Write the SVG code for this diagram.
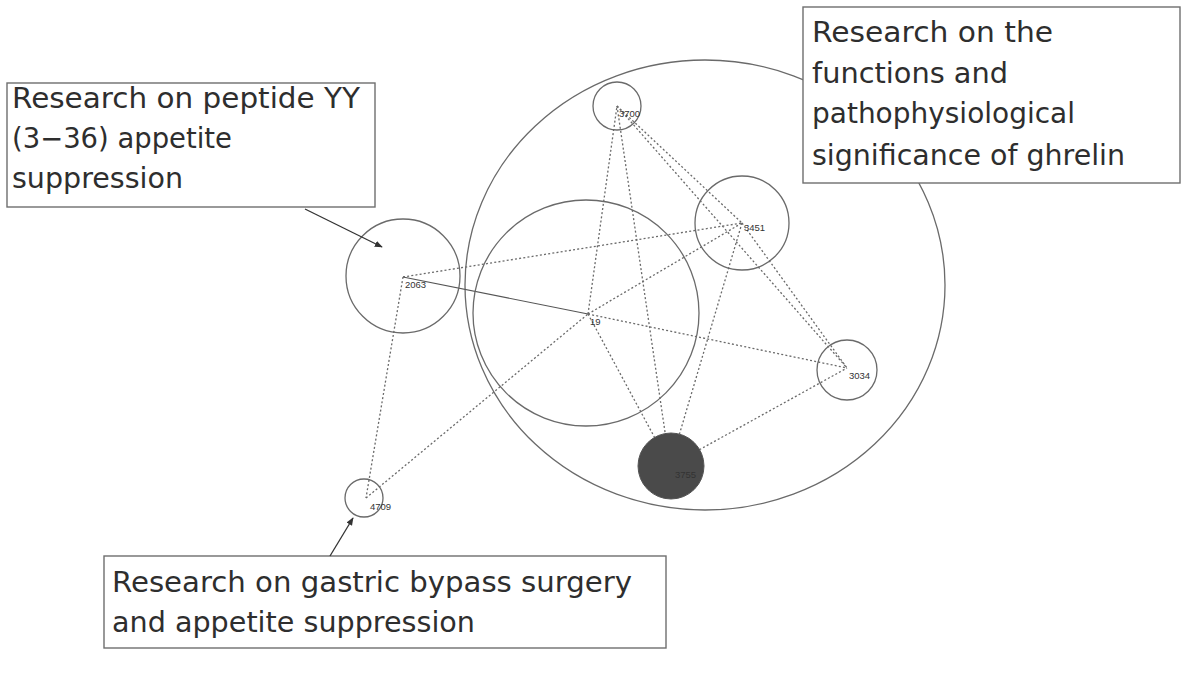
<svg xmlns="http://www.w3.org/2000/svg" width="1183" height="681" viewBox="0 0 1183 681">
  <style>
    .ring { fill: none; stroke: #6a6a6a; stroke-width: 1.3; }
    .hub { fill: #4a4a4a; stroke: #555; stroke-width: 1; }
    .edge { stroke: #6a6a6a; stroke-width: 1.3; stroke-dasharray: 2 2.2; fill: none; }
    .solid { stroke: #555; stroke-width: 1.2; fill: none; }
    .lbl { font-family: "Liberation Sans", Arial, sans-serif; font-size: 9.5px; fill: #333; }
    .note { fill: #fff; stroke: #6e6e6e; stroke-width: 1.4; }
    .ntxt { font-family: "DejaVu Sans", "Liberation Sans", sans-serif; font-size: 28px; fill: #2e2e2e; }
    .ptr { stroke: #333; stroke-width: 1.3; fill: none; marker-end: url(#tip); }
  </style>
  <defs>
    <marker id="tip" viewBox="0 0 10 10" refX="9" refY="5" markerWidth="8" markerHeight="8" markerUnits="userSpaceOnUse" orient="auto">
      <path d="M0,1 L10,5 L0,9 z" fill="#333"/>
    </marker>
  </defs>
  <rect width="1183" height="681" fill="#fff"/>

  <!-- cluster outline around the ghrelin group -->
  <g id="cluster-ghrelin">
    <ellipse class="ring" cx="705" cy="285" rx="240" ry="225"/>
  </g>

  <!-- co-citation links -->
  <g id="connectors">
    <line class="edge" x1="403" y1="277" x2="742" y2="223"/>
    <line class="solid" x1="403" y1="277" x2="588" y2="314"/>
    <line class="edge" x1="588" y1="314" x2="847" y2="368"/>
    <line class="edge" x1="403" y1="277" x2="366" y2="498"/>
    <line class="edge" x1="366" y1="498" x2="588" y2="314"/>
    <line class="edge" x1="588" y1="314" x2="742" y2="223"/>
    <line class="edge" x1="588" y1="314" x2="617" y2="106"/>
    <line class="edge" x1="588" y1="314" x2="670" y2="466"/>
    <line class="edge" x1="617" y1="106" x2="670" y2="466"/>
    <line class="edge" x1="742" y1="223" x2="670" y2="466"/>
    <line class="edge" x1="670" y1="466" x2="847" y2="368"/>
    <line class="edge" x1="617" y1="106" x2="742" y2="223"/>
    <line class="edge" x1="617" y1="106" x2="847" y2="368"/>
    <line class="edge" x1="742" y1="223" x2="847" y2="368"/>
  </g>

  <g id="node-3700">
    <circle class="ring" cx="617" cy="106" r="24"/>
    <text class="lbl" x="619" y="117">3700</text>
  </g>
  <g id="node-3451">
    <circle class="ring" cx="742" cy="223" r="47"/>
    <text class="lbl" x="744" y="231">3451</text>
  </g>
  <g id="node-2063">
    <circle class="ring" cx="403" cy="276" r="57"/>
    <text class="lbl" x="405" y="288">2063</text>
  </g>
  <g id="node-19">
    <circle class="ring" cx="586" cy="313" r="113"/>
    <text class="lbl" x="590" y="325">19</text>
  </g>
  <g id="node-3034">
    <circle class="ring" cx="847" cy="370" r="30"/>
    <text class="lbl" x="849" y="379">3034</text>
  </g>
  <g id="node-3755">
    <circle class="hub" cx="671" cy="466" r="33"/>
    <text class="lbl" x="675" y="478" fill="#2a2a2a">3755</text>
  </g>
  <g id="node-4709">
    <circle class="ring" cx="364" cy="498" r="19"/>
    <text class="lbl" x="370" y="510">4709</text>
  </g>

  <!-- annotation callouts -->
  <g id="note-pyy">
    <rect class="note" x="7" y="83" width="368" height="124"/>
    <text class="ntxt" x="12" y="108" textLength="348" lengthAdjust="spacingAndGlyphs">Research on peptide YY</text>
    <text class="ntxt" x="12" y="148" textLength="220" lengthAdjust="spacingAndGlyphs">(3−36) appetite</text>
    <text class="ntxt" x="12" y="188" textLength="171" lengthAdjust="spacingAndGlyphs">suppression</text>
    <line class="ptr" x1="305" y1="209" x2="382" y2="247"/>
  </g>
  <g id="note-ghrelin">
    <rect class="note" x="803" y="7" width="377" height="176"/>
    <text class="ntxt" x="812" y="42" textLength="241" lengthAdjust="spacingAndGlyphs">Research on the</text>
    <text class="ntxt" x="812" y="83" textLength="196" lengthAdjust="spacingAndGlyphs">functions and</text>
    <text class="ntxt" x="812" y="123" textLength="263" lengthAdjust="spacingAndGlyphs">pathophysiological</text>
    <text class="ntxt" x="812" y="165" textLength="313" lengthAdjust="spacingAndGlyphs">significance of ghrelin</text>
  </g>
  <g id="note-bypass">
    <rect class="note" x="104" y="556" width="562" height="92"/>
    <text class="ntxt" x="112" y="592" textLength="520" lengthAdjust="spacingAndGlyphs">Research on gastric bypass surgery</text>
    <text class="ntxt" x="112" y="632" textLength="363" lengthAdjust="spacingAndGlyphs">and appetite suppression</text>
    <line class="ptr" x1="330" y1="556" x2="353" y2="518"/>
  </g>
</svg>
